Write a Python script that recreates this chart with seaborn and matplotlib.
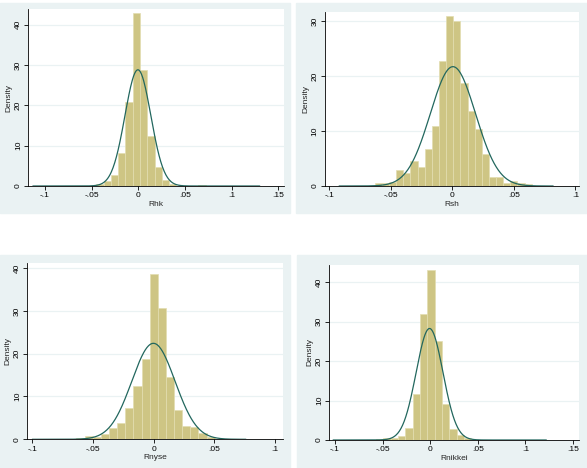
import numpy as np
import pandas as pd
import seaborn as sns
import matplotlib.pyplot as plt
from matplotlib.patches import Rectangle

sns.set_style("white")
plt.rcParams['font.family'] = ['Liberation Sans', 'DejaVu Sans']

# Histogram data (density heights per bin)
rhk_start, rhk_width = -0.045, 0.0078
rhk_heights = [0.4, 1.2, 2.8, 8.1, 20.7, 42.8, 28.7, 12.4, 4.8, 1.4, 0.4, 0, 0, 0, 0.15]
rhk_mu, rhk_sigma, rhk_range = -0.0005, 0.01385, (-0.113, 0.130)

rsh_start, rsh_width = -0.063, 0.0058
rsh_heights = [0.6, 0.6, 0.8, 3.0, 2.3, 4.5, 3.4, 6.7, 10.9, 22.8, 31.0,
               30.0, 18.7, 13.6, 10.3, 5.8, 1.7, 1.7, 0.6, 1.0, 0.5, 0.3]
rsh_mu, rsh_sigma, rsh_range = 0.0005, 0.01838, (-0.092, 0.082)

rnyse_start, rnyse_width = -0.0636, 0.0067
rnyse_heights = [0.2, 0.8, 0.6, 1.2, 2.6, 3.9, 7.4, 12.5, 18.7, 38.5, 30.7,
                 14.6, 6.8, 3.0, 2.8, 1.4, 0.5]
rnyse_mu, rnyse_sigma, rnyse_range = -0.0002, 0.0178, (-0.100, 0.076)

rnikkei_start, rnikkei_width = -0.0569, 0.0077
rnikkei_heights = [0.3, 0.5, 0.5, 0.9, 3.0, 11.6, 31.9, 43.2, 25.0, 9.1, 2.7, 1.3, 0.6]
rnikkei_mu, rnikkei_sigma, rnikkei_range = -0.0007, 0.0141, (-0.102, 0.122)

xticks_wide = [-0.1, -0.05, 0, 0.05, 0.1, 0.15]
xlabels_wide = ['-.1', '-.05', '0', '.05', '.1', '.15']
xticks_narrow = [-0.1, -0.05, 0, 0.05, 0.1]
xlabels_narrow = ['-.1', '-.05', '0', '.05', '.1']
yticks_40 = [0, 10, 20, 30, 40]
yticks_30 = [0, 10, 20, 30]

W, H = 587, 468
fig = plt.figure(figsize=(W / 100, H / 100), dpi=100)

bg = '#EAF2F3'
bar_color = '#CEC584'
edge_color = '#E3DDB0'
line_color = '#22675E'

# panel backgrounds (pixels: x0, y0, x1, y1)
for x0, y0, x1, y1 in [(0, 3, 290, 213), (296, 3, 587, 213),
                       (0, 255, 290, 468), (297, 255, 587, 468)]:
    fig.patches.append(Rectangle((x0 / W, 1 - y1 / H), (x1 - x0) / W, (y1 - y0) / H,
                                 transform=fig.transFigure, color=bg, zorder=-5))


def panel(rect, start, width, heights, mu, sigma, rng, name,
          xlim, ylim, xticks, xlabels, yticks):
    l, t, r, b = rect
    ax = fig.add_axes([l / W, 1 - b / H, (r - l) / W, (b - t) / H])
    ax.set_facecolor('white')
    edges = [start + width * i for i in range(len(heights) + 1)]
    centers = [(edges[i] + edges[i + 1]) / 2 for i in range(len(heights))]
    df = pd.DataFrame({'x': centers, 'h': heights})
    for y in yticks[1:]:
        ax.axhline(y, color=bg, lw=0.9, zorder=0)
    sns.histplot(data=df, x='x', weights='h', bins=edges, stat='count',
                 color=bar_color, edgecolor=edge_color, linewidth=0.5,
                 alpha=1, ax=ax, zorder=2)
    xs = np.linspace(rng[0], rng[1], 400)
    dens = np.exp(-0.5 * ((xs - mu) / sigma) ** 2) / (sigma * np.sqrt(2 * np.pi))
    sns.lineplot(x=xs, y=dens, color=line_color, lw=0.9, ax=ax, zorder=3)
    ax.set_xlim(*xlim)
    ax.set_ylim(*ylim)
    ax.set_xticks(xticks)
    ax.set_xticklabels(xlabels)
    ax.set_yticks(yticks)
    ax.set_yticklabels([str(v) for v in yticks], rotation=90, va='center')
    ax.tick_params(axis='both', labelsize=6, length=3, width=0.6, pad=1.5,
                   direction='out', bottom=True, left=True, colors='black')
    for s in ['top', 'right']:
        ax.spines[s].set_visible(False)
    for s in ['left', 'bottom']:
        ax.spines[s].set_color('black')
        ax.spines[s].set_linewidth(0.6)
    ax.set_xlabel(name, fontsize=6, labelpad=1)
    ax.set_ylabel('Density', fontsize=6, labelpad=2)
    return ax


panel((28.3, 9.3, 284, 186), rhk_start, rhk_width, rhk_heights, rhk_mu, rhk_sigma,
      rhk_range, 'Rhk', (-0.1179, 0.156), (0, 43.8), xticks_wide, xlabels_wide, yticks_40)
panel((325, 11.7, 579, 186), rsh_start, rsh_width, rsh_heights, rsh_mu, rsh_sigma,
      rsh_range, 'Rsh', (-0.1035, 0.103), (0, 31.7), xticks_narrow, xlabels_narrow, yticks_30)
panel((27.3, 263.3, 283.3, 439.3), rnyse_start, rnyse_width, rnyse_heights, rnyse_mu,
      rnyse_sigma, rnyse_range, 'Rnyse', (-0.1041, 0.1068), (0, 41.1),
      xticks_narrow, xlabels_narrow, yticks_40)
panel((329.3, 265, 579.3, 440), rnikkei_start, rnikkei_width, rnikkei_heights, rnikkei_mu,
      rnikkei_sigma, rnikkei_range, 'Rnikkei', (-0.106, 0.1566), (0, 44.4),
      xticks_wide, xlabels_wide, yticks_40)

fig.savefig('out.png', dpi=100)
